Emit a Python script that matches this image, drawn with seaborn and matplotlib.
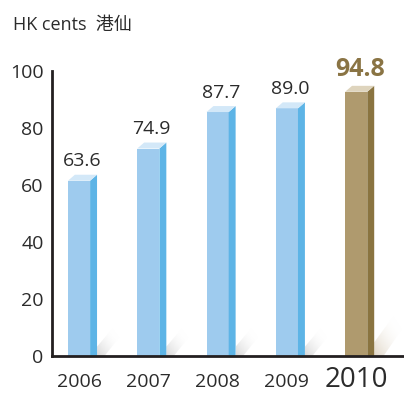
import matplotlib
matplotlib.use("Agg")
import matplotlib.pyplot as plt
import seaborn as sns
import pandas as pd
import numpy as np
from matplotlib.patches import Polygon

years = ["2006", "2007", "2008", "2009", "2010"]
values = [63.6, 74.9, 87.7, 89.0, 94.8]
labels = ["63.6", "74.9", "87.7", "89.0", "94.8"]
yticks = [0, 20, 40, 60, 80, 100]

sns.set_theme(style="white")
plt.rcParams['font.family'] = ['Open Sans', 'Noto Sans CJK SC', 'DejaVu Sans']

df = pd.DataFrame({"year": years, "value": values})
front_cols = ["#9ECBEE"] * 4 + ["#AF9A6E"]
side_cols = ["#5DB4E6"] * 4 + ["#8A7440"]
top_cols = ["#D3E8F8"] * 4 + ["#DED4BD"]
shadow_cols = ["#D2D2D2"] * 4 + ["#DDD2C0"]

fig = plt.figure(figsize=(4.04, 3.94), dpi=100)
ax = fig.add_axes([52/404, 38/394, (404-52)/404, (356-71)/394])

sns.barplot(data=df, x="year", y="value", hue="year", palette=front_cols,
            legend=False, width=0.32, ax=ax, saturation=1, linewidth=0)

dx = 0.10   # depth in x (data units)
dy = 2.1    # depth in y (data units)
n = 80
xx, yy = np.meshgrid(np.linspace(0, 1, n), np.linspace(0, 1, n))
grad = np.clip(1 - (xx + yy) / 1.5, 0, 1)
for i, p in enumerate(ax.patches):
    h = values[i] - dy
    p.set_height(h)
    x0 = p.get_x(); x1 = x0 + p.get_width()
    # soft diagonal shadow
    sx = x1 + dx
    W, H = (0.36, 11) if i < len(values) - 1 else (0.45, 16)
    poly = Polygon([(sx, 0), (sx + 0.3 * W, 0), (sx + W, 0.7 * H), (sx + W, H),
                    (sx + 0.75 * W, H), (sx, 0.3 * H)],
                   closed=True, facecolor="none", edgecolor="none")
    ax.add_patch(poly)
    cmap = matplotlib.colors.LinearSegmentedColormap.from_list(
        "sh", [(1, 1, 1, 0), matplotlib.colors.to_rgba(shadow_cols[i], 0.9)])
    im = ax.imshow(grad, cmap=cmap, extent=(sx, sx + W, 0, H), origin="lower",
                   aspect="auto", zorder=1, interpolation="bilinear", vmin=0, vmax=1)
    im.set_clip_path(poly)
    side = Polygon([(x1, 0), (x1 + dx, 0), (x1 + dx, h + dy), (x1, h)],
                   closed=True, facecolor=side_cols[i], edgecolor="none", zorder=3)
    top = Polygon([(x0, h), (x1, h), (x1 + dx, h + dy), (x0 + dx, h + dy)],
                  closed=True, facecolor=top_cols[i], edgecolor="none", zorder=3)
    ax.add_patch(side)
    ax.add_patch(top)
    p.set_zorder(3)
    cx = x0 + (p.get_width() + dx) / 2
    if i == len(values) - 1:
        ax.text(cx, values[i] + 1.5, labels[i], ha="center", va="bottom",
                fontsize=18, fontweight="bold", color="#8A7444")
    else:
        ax.text(cx, values[i] + 1.5, labels[i], ha="center", va="bottom",
                fontsize=14, color="#2B2B2B")

ax.set_xlim(-0.39, 4.69)
ax.set_ylim(0, 100)
ax.set_yticks(yticks)
ax.set_yticklabels([str(v) for v in yticks], fontsize=14, color="#2B2B2B")
ax.set_xlabel("")
ax.set_ylabel("")
ax.set_xticks(range(len(years)))
ax.set_xticklabels(years, color="#2B2B2B")
for i, t in enumerate(ax.get_xticklabels()):
    t.set_fontsize(20 if i == len(years) - 1 else 14)
    t.set_va("baseline")
ax.tick_params(axis="y", direction="in", length=7, width=2, color="#231F20", pad=6)
ax.tick_params(axis="x", length=0, pad=22.5)
for s in ["top", "right"]:
    ax.spines[s].set_visible(False)
for s in ["left", "bottom"]:
    ax.spines[s].set_color("#231F20")
    ax.spines[s].set_linewidth(2)
    ax.spines[s].set_zorder(4)
ax.set_facecolor("white")
ax.patch.set_alpha(0)

fig.text(13/404, 1 - 25/394, "HK cents  港仙", fontsize=13, color="#2B2B2B",
         ha="left", va="center")

fig.savefig("out.png", dpi=100, facecolor="white")
